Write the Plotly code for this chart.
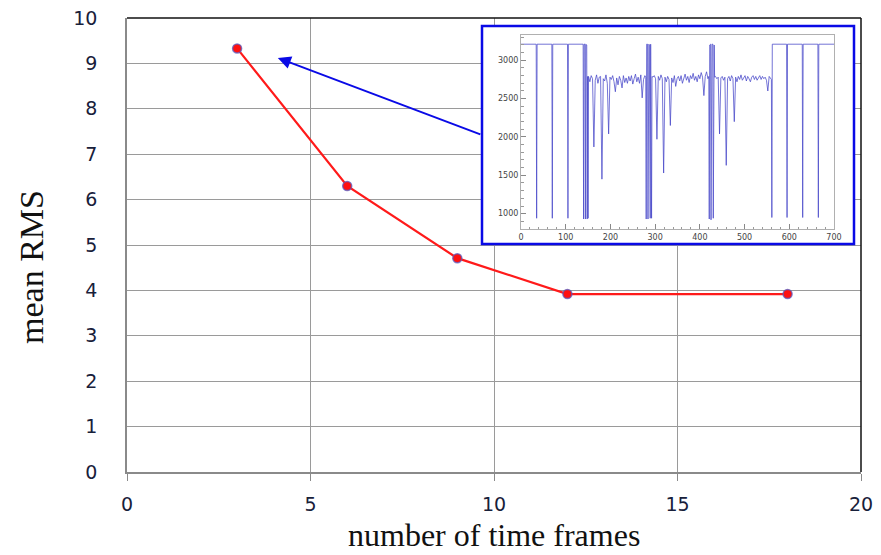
import plotly.graph_objects as go

# Main curve: mean RMS against the number of time frames
frames = [3, 6, 9, 12, 18]
mean_rms = [9.33, 6.30, 4.71, 3.92, 3.92]

x_ticks = [0, 5, 10, 15, 20]
y_ticks = [0, 1, 2, 3, 4, 5, 6, 7, 8, 9, 10]

# Inset signal (sample index vs. value), assembled from its pieces
head_x = [0, 34, 35, 36, 69, 70, 71, 104, 105, 106, 139, 140, 141, 143, 144, 145, 147, 148, 149, 150]
head_y = [3210, 3210, 940, 3210, 3210, 940, 3210, 3210, 940, 3210, 3210, 930, 3210, 3210, 930, 3210, 3200, 930, 2790, 940]

noise1_x = list(range(151, 278, 3))
noise1_y = [2790, 2720, 2800, 2760, 1870, 2740, 2810, 2700, 2780, 2790, 1450, 2760, 2730, 2810, 2700,
            2040, 2780, 2750, 2800, 2720, 2590, 2770, 2680, 2790, 2740, 2640, 2800, 2710, 2770, 2700,
            2790, 2730, 2800, 2690, 2760, 2820, 2720, 2780, 2700, 2810, 2510, 2750, 2800]

burst1_x = [279, 280, 281, 283, 284, 286, 287, 289, 290, 292, 293]
burst1_y = [2780, 930, 3210, 3210, 930, 3210, 3200, 940, 3210, 940, 2790]

noise2_x = list(range(295, 419, 3))
noise2_y = [2780, 2800, 2760, 1970, 2790, 2740, 2810, 2760, 1530, 2780, 2720, 2790, 2750, 2150, 2770,
            2710, 2800, 2660, 2760, 2790, 2730, 2800, 2700, 2780, 2820, 2740, 2790, 2710, 2800, 2760,
            2830, 2740, 2790, 2720, 2810, 2760, 2840, 2780, 2540, 2790, 2850, 2760]

burst2_x = [420, 421, 422, 424, 425, 427, 429, 430, 432, 433]
burst2_y = [2790, 930, 3200, 3210, 920, 3210, 3210, 940, 3200, 2780]

noise3_x = list(range(435, 559, 3))
noise3_y = [2790, 2760, 2780, 2040, 2770, 2790, 2740, 2780, 1630, 2760, 2790, 2730, 2800, 2760, 2200,
            2780, 2720, 2790, 2750, 2810, 2740, 2780, 2800, 2730, 2790, 2760, 2720, 2780, 2800, 2750,
            2790, 2740, 2770, 2800, 2750, 2790, 2760, 2780, 2740, 2600, 2790, 2760]

tail_x = [560, 561, 562, 594, 595, 596, 629, 630, 631, 664, 665, 666, 700]
tail_y = [2750, 950, 3210, 3210, 950, 3210, 3210, 950, 3210, 3210, 950, 3210, 3210]

inset_x_ticks = [0, 100, 200, 300, 400, 500, 600, 700]
inset_y_ticks = [1000, 1500, 2000, 2500, 3000]

signal_x = head_x + noise1_x + burst1_x + noise2_x + burst2_x + noise3_x + tail_x
signal_y = head_y + noise1_y + burst1_y + noise2_y + burst2_y + noise3_y + tail_y

W, H = 881, 555
ML, MR, MT, MB = 127, 20, 18, 83
PW, PH = W - ML - MR, H - MT - MB


def px_x(p):
    return (p - ML) / PW


def px_y(p):
    return (H - MB - p) / PH


fig = go.Figure()

fig.add_trace(go.Scatter(
    x=frames, y=mean_rms, mode="lines+markers",
    line=dict(color="#ff1a1a", width=2.2),
    marker=dict(size=9, color="#ff1010", line=dict(color="rgba(90,90,190,0.75)", width=1.5)),
    xaxis="x", yaxis="y", showlegend=False, cliponaxis=False,
))

# invisible helper subplot giving the inset its white panel
fig.add_trace(go.Scatter(x=[None], y=[None], xaxis="x2", yaxis="y2", showlegend=False))

fig.add_trace(go.Scatter(
    x=signal_x, y=signal_y, mode="lines",
    line=dict(color="rgba(70,70,200,0.75)", width=1),
    xaxis="x3", yaxis="y3", showlegend=False,
))

tick_font = dict(family="DejaVu Sans", size=19, color="#18203a")
inset_font = dict(family="DejaVu Sans", size=8, color="#444444")

box = [px_x(482), px_x(854), px_y(244), px_y(26)]
inner = [px_x(521), px_x(834), px_y(229), px_y(35)]

fig.update_layout(
    width=W, height=H,
    margin=dict(l=ML, r=MR, t=MT, b=MB, autoexpand=False),
    paper_bgcolor="white", plot_bgcolor="white",
    xaxis=dict(
        range=[0, 20], tickvals=x_ticks, showgrid=True, gridcolor="#9a9a9a", gridwidth=1.3,
        showline=True, linecolor="#8a8a8a", linewidth=1.5, zeroline=False, automargin=False,
        ticks="outside", ticklen=7, tickcolor="#8a8a8a", tickwidth=1.3,
        tickfont=tick_font, ticklabelstandoff=7,
    ),
    yaxis=dict(
        range=[0, 10], tickvals=y_ticks, showgrid=True, gridcolor="#9a9a9a", gridwidth=1.3,
        showline=True, linecolor="#8a8a8a", linewidth=1.5, zeroline=False, automargin=False,
        ticks="", tickfont=tick_font, ticklabelstandoff=24,
    ),
    xaxis2=dict(domain=[box[0], box[1]], anchor="y2", range=[0, 1], visible=False, fixedrange=True),
    yaxis2=dict(domain=[box[2], box[3]], anchor="x2", range=[0, 1], visible=False, fixedrange=True),
    xaxis3=dict(
        domain=[inner[0], inner[1]], anchor="y3", range=[0, 700], tickvals=inset_x_ticks,
        showgrid=False, zeroline=False, showline=True, mirror=True, linecolor="#b0b0b0", linewidth=1,
        ticks="inside", ticklen=5, tickcolor="#888888", automargin=False,
        minor=dict(ticks="inside", ticklen=2.5, dtick=20, tickcolor="#999999", showgrid=False),
        tickfont=inset_font,
    ),
    yaxis3=dict(
        domain=[inner[2], inner[3]], anchor="x3", range=[800, 3330], tickvals=inset_y_ticks,
        showgrid=False, zeroline=False, showline=True, mirror=True, linecolor="#b0b0b0", linewidth=1,
        ticks="inside", ticklen=5, tickcolor="#888888", automargin=False,
        minor=dict(ticks="inside", ticklen=2.5, dtick=100, tickcolor="#999999", showgrid=False),
        tickfont=inset_font,
    ),
    shapes=[
        # dark top and right edges of the main frame
        dict(type="line", xref="paper", yref="paper", x0=0, x1=1, y0=1, y1=1,
             line=dict(color="#111111", width=1.5), layer="above"),
        dict(type="line", xref="paper", yref="paper", x0=1, x1=1, y0=0, y1=1,
             line=dict(color="#111111", width=1.5), layer="above"),
        # blue frame around the inset
        dict(type="rect", xref="paper", yref="paper", x0=box[0], x1=box[1], y0=box[2], y1=box[3],
             line=dict(color="#0a0ae6", width=2.5), fillcolor="rgba(0,0,0,0)", layer="above"),
    ],
    annotations=[
        dict(x=4.11, y=9.12, xref="x", yref="y", ax=204, ay=77, axref="pixel", ayref="pixel",
             text="", showarrow=True, arrowhead=2, arrowsize=1.3, arrowwidth=2, arrowcolor="#0a0ae6"),
        # axis titles
        dict(text="number of time frames", xref="paper", yref="paper",
             x=px_x(494), y=px_y(535), xanchor="center", yanchor="middle", showarrow=False,
             font=dict(family="Liberation Serif", size=32, color="#111111")),
        dict(text="mean RMS", xref="paper", yref="paper", textangle=-90,
             x=px_x(31), y=px_y(267), xanchor="center", yanchor="middle", showarrow=False,
             font=dict(family="Liberation Serif", size=34, color="#111111")),
    ],
)

fig.write_html("out.html")
